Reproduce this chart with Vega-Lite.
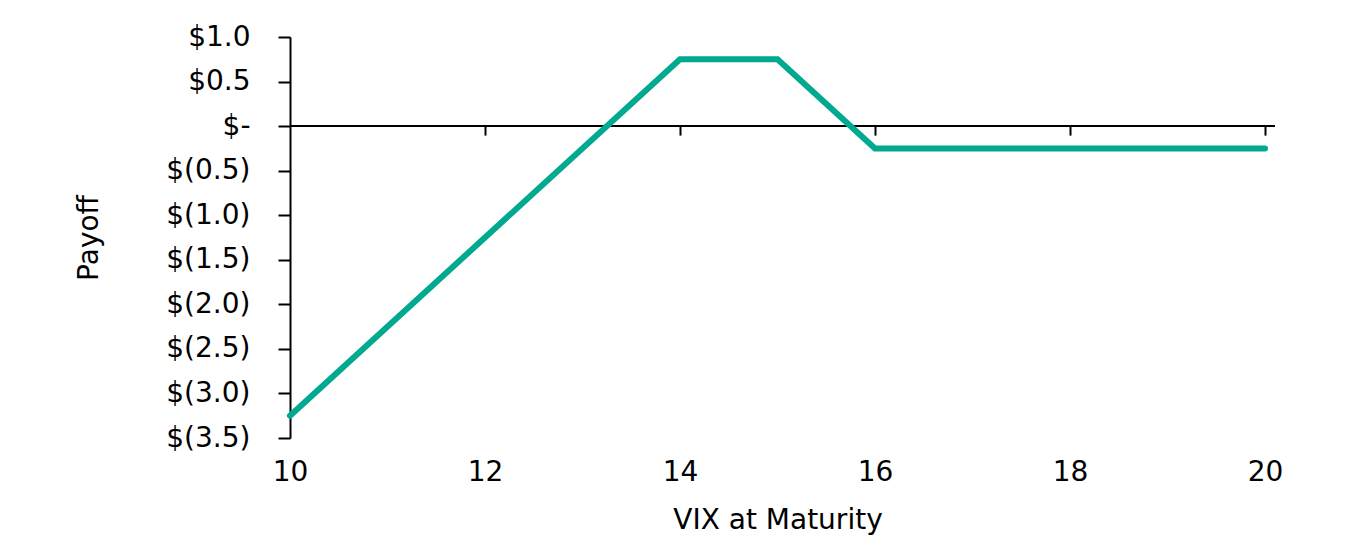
{
  "$schema": "https://vega.github.io/schema/vega-lite/v6.json",
  "width": 975,
  "height": 401,
  "autosize": {"type": "none"},
  "padding": {"left": 290, "top": 37, "right": 97, "bottom": 114},
  "background": "white",
  "config": {
    "view": {"stroke": null},
    "axis": {
      "grid": false,
      "labelFont": "DejaVu Sans",
      "titleFont": "DejaVu Sans",
      "labelFontSize": 28,
      "titleFontSize": 28,
      "titleFontWeight": "normal",
      "labelColor": "black",
      "titleColor": "black",
      "domainColor": "black",
      "tickColor": "black",
      "domainWidth": 2,
      "tickWidth": 2,
      "labelFlush": false
    }
  },
  "data": {
    "values": [
      {"vix": 10, "payoff": -3.25},
      {"vix": 14, "payoff": 0.75},
      {"vix": 15, "payoff": 0.75},
      {"vix": 16, "payoff": -0.25},
      {"vix": 20, "payoff": -0.25}
    ]
  },
  "layer": [
    {
      "mark": {"type": "rule", "color": "black", "strokeWidth": 2},
      "encoding": {
        "x": {
          "datum": 10,
          "type": "quantitative",
          "scale": {"domain": [10, 20], "nice": false, "zero": false},
          "axis": {
            "orient": "bottom",
            "offset": -311.9,
            "values": [12, 14, 16, 18, 20],
            "labels": false,
            "domain": false,
            "ticks": true,
            "tickSize": 9,
            "title": null
          }
        },
        "x2": {"datum": 20.1},
        "y": {"datum": 0, "type": "quantitative", "title": "Payoff"}
      }
    },
    {
      "mark": {"type": "line", "color": "#00A98F", "strokeWidth": 6, "strokeCap": "round", "strokeJoin": "miter"},
      "encoding": {
        "x": {
          "field": "vix",
          "type": "quantitative",
          "scale": {"domain": [10, 20], "nice": false, "zero": false},
          "axis": {
            "orient": "bottom",
            "values": [10, 12, 14, 16, 18, 20],
            "domain": false,
            "ticks": false,
            "labelPadding": 20,
            "title": "VIX at Maturity",
            "titlePadding": 20
          }
        },
        "y": {
          "field": "payoff",
          "type": "quantitative",
          "scale": {"domain": [-3.5, 1], "nice": false, "zero": false},
          "axis": {
            "values": [-3.5, -3, -2.5, -2, -1.5, -1, -0.5, 0, 0.5, 1],
            "tickSize": 12,
            "labelPadding": 28,
            "labelExpr": "datum.value == 0 ? '$-\u00a0\u00a0\u00a0\u00a0' : (datum.value > 0 ? '$' + format(datum.value, '.1f') + '\u00a0' : '$(' + format(-datum.value, '.1f') + ')')",
            "title": "Payoff",
            "titlePadding": 62
          }
        }
      }
    }
  ],
  "resolve": {"axis": {"x": "independent"}}
}
